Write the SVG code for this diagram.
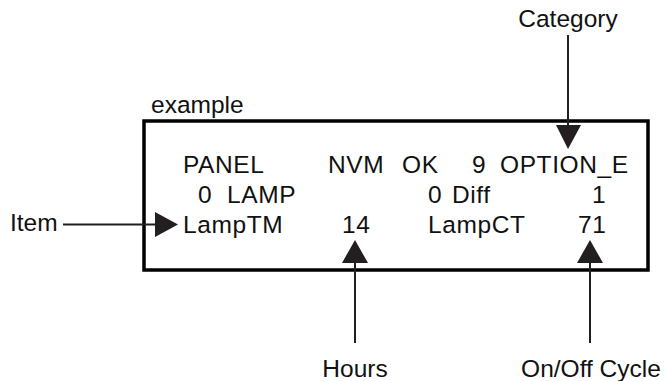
<svg xmlns="http://www.w3.org/2000/svg" width="665" height="381" viewBox="0 0 665 381">
<style>
  text { font-family: "Liberation Sans", Arial, sans-serif; fill: #111; }
  .lbl { font-size: 24.5px; }
  .mid { text-anchor: middle; }
  .lcd { font-size: 24.5px; letter-spacing: 0.6px; }
  .conn { stroke: #231f20; stroke-width: 2; fill: none; }
  .head { fill: #231f20; }
</style>
<rect width="665" height="381" fill="#fff"/>
<g id="display">
  <text class="lbl" x="151" y="113">example</text>
  <rect x="144" y="121" width="504" height="149" fill="none" stroke="#000" stroke-width="3.5"/>
  <text class="lcd" x="183" y="173">PANEL</text>
  <text class="lcd" x="328" y="173">NVM</text>
  <text class="lcd" x="402" y="173">OK</text>
  <text class="lcd" x="472" y="173">9</text>
  <text class="lcd" x="500" y="173">OPTION_E</text>
  <text class="lcd" x="198" y="203">0</text>
  <text class="lcd" x="227" y="203">LAMP</text>
  <text class="lcd" x="428" y="203">0</text>
  <text class="lcd" x="452" y="203">Diff</text>
  <text class="lcd" x="592" y="203">1</text>
  <text class="lcd" x="183" y="233">LampTM</text>
  <text class="lcd" x="342" y="233">14</text>
  <text class="lcd" x="428" y="233">LampCT</text>
  <text class="lcd" x="578" y="233">71</text>
</g>
<g id="label-category"><text class="lbl mid" x="568" y="27">Category</text></g>
<g id="label-item"><text class="lbl" x="10" y="231">Item</text></g>
<g id="label-hours"><text class="lbl mid" x="355" y="377">Hours</text></g>
<g id="label-onoff"><text class="lbl mid" x="591" y="377">On/Off Cycle</text></g>
<g id="connectors">
  <line class="conn" x1="568" y1="35" x2="568" y2="128"/>
  <polygon class="head" points="556,125 581,125 568,149"/>
  <line class="conn" x1="63" y1="224.5" x2="158" y2="224.5"/>
  <polygon class="head" points="155,212 155,237 178,224.5"/>
  <line class="conn" x1="355" y1="259" x2="355" y2="343"/>
  <polygon class="head" points="342,263 368,263 355,240"/>
  <line class="conn" x1="590" y1="259" x2="590" y2="343"/>
  <polygon class="head" points="577,263 603,263 590,240"/>
</g>
</svg>
